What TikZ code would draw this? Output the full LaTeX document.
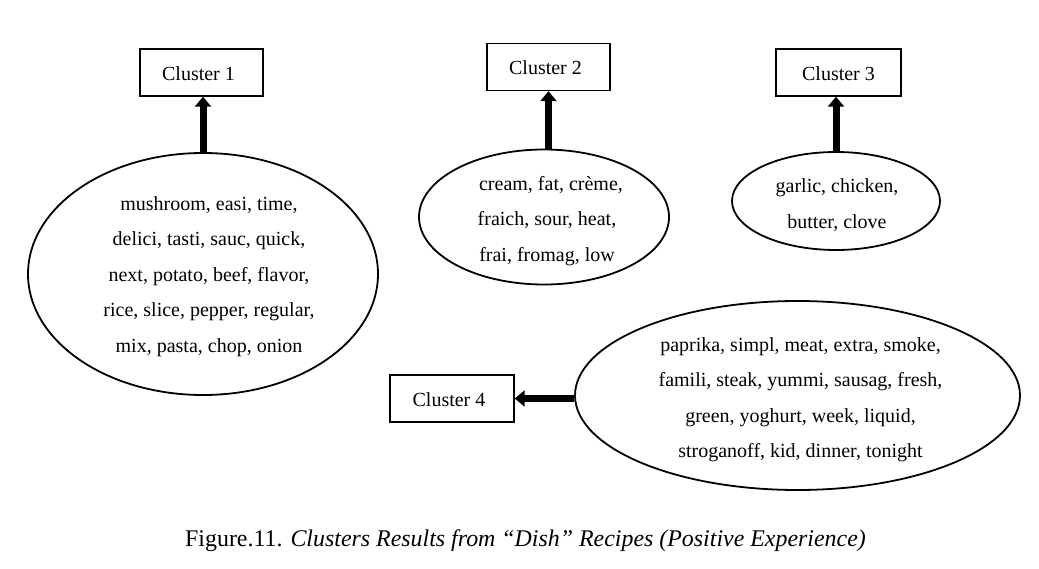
\documentclass[tikz,border=0pt]{standalone}
\usepackage{fontspec}
\setmainfont{Liberation Serif}
\usetikzlibrary{shapes.geometric,arrows.meta}
\begin{document}
\begin{tikzpicture}[x=1pt,y=-1pt,
  clusterbox/.style={draw,line width=1.4pt,rectangle,inner sep=0pt,
    minimum width=123pt,minimum height=47pt,text height=20pt,text depth=4.4pt,
    font={\fontsize{20}{24}\selectfont}},
  wordcloud/.style={draw,line width=1.8pt,ellipse,inner sep=0pt},
  wordtext/.style={inner sep=0pt,align=center,font={\fontsize{20}{35.5}\selectfont}},
  bigarrow/.style={line width=7pt,-{Triangle[width=16pt,length=10pt]}}]
\useasboundingbox (0,0) rectangle (1039,569);
\fill[white] (0,0) rectangle (1039,569);
% boxes
\node[clusterbox] (b1) at (201.5,72.5) {\hspace*{-6pt}Cluster 1};
\node[clusterbox] (b2) at (548.5,67) {\hspace*{-6pt}Cluster 2};
\node[clusterbox,minimum width=125pt] (b3) at (838.5,72.5) {Cluster 3};
\node[clusterbox,minimum width=124pt] (b4) at (452,398.5) {\hspace*{-6pt}Cluster 4};
% ellipses
\node[wordcloud,minimum width=350pt,minimum height=242pt] (e1) at (203,274) {};
\node[wordcloud,minimum width=250pt,minimum height=135pt] (e2) at (544,217) {};
\node[wordcloud,minimum width=208pt,minimum height=98pt] (e3) at (836,201) {};
\node[wordcloud,minimum width=445pt,minimum height=189pt] (e4) at (797.5,395.5) {};
% ellipse texts
\node[wordtext] (t1) at (209,276.5)
  {mushroom, easi, time,\\delici, tasti, sauc, quick,\\next, potato, beef, flavor,\\rice, slice, pepper, regular,\\mix, pasta, chop, onion};
\node[wordtext] (t2) at (547,221)
  {\hspace*{8pt}cream, fat, crème,\\fraich, sour, heat,\\frai, fromag, low};
\node[wordtext] (t3) at (837,205)
  {garlic, chicken,\\butter, clove};
\node[wordtext] (t4) at (800.5,399.5)
  {paprika, simpl, meat, extra, smoke,\\famili, steak, yummi, sausag, fresh,\\green, yoghurt, week, liquid,\\stroganoff, kid, dinner, tonight};
% arrows
\draw[bigarrow] (e1.north) -- (e1.north |- b1.south);
\draw[bigarrow] (b2.south |- e2.north) -- (b2.south);
\draw[bigarrow] (e3.north) -- (e3.north |- b3.south);
\draw[bigarrow] (e4.west |- b4.east) -- (b4.east);
% caption
\node[font={\fontsize{23.9}{28}\selectfont},inner sep=0pt] (cap) at (525.5,541)
  {Figure.11. \textit{Clusters Results from “Dish” Recipes (Positive Experience)}};
\end{tikzpicture}
\end{document}
